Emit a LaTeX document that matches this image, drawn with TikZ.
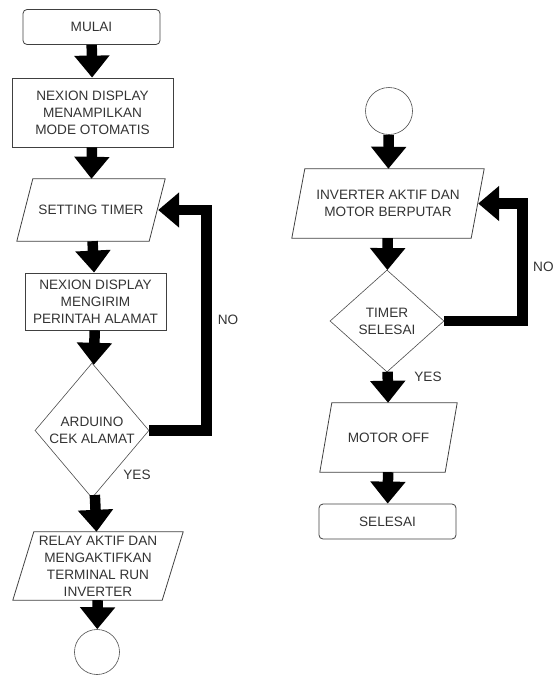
\documentclass[tikz,border=0pt]{standalone}
\usepackage{fontspec}
\setmainfont{Liberation Sans}
\usepackage{tikz}
\usetikzlibrary{arrows.meta, positioning, calc, shapes.geometric}

% parallelogram outline around a (not drawn) node: name, slant
\newcommand{\jajar}[2]{%
  \draw[black!75, thick] ($(#1.north west)+(#2,0)$) -- (#1.north east)
    -- ($(#1.south east)-(#2,0)$) -- (#1.south west) -- cycle;}

\begin{document}
\begin{tikzpicture}[
        x=1pt, y=-1pt,
        font=\fontsize{13.6}{17}\selectfont,
        every node/.style={text=black!80, align=center},
        terminal/.style={draw=black!75, thick, rounded corners=4pt, minimum width=137pt, minimum height=35pt, inner sep=0pt},
        process/.style={draw=black!75, thick, rectangle, inner sep=0pt},
        io/.style={rectangle, inner sep=0pt},
        decision/.style={draw=black!70, semithick, diamond, inner sep=0pt},
        connector/.style={draw=black!70, semithick, circle, inner sep=0pt},
        flow/.style={line width=10.5pt, black, -{Triangle[width=34pt, length=22pt]}},
        loop/.style={line width=10.5pt, black, miter limit=4, -{Triangle[width=34pt, length=21pt]}}
        ]
        \useasboundingbox (0,0) rectangle (553,675);

        % Left column
        \node[terminal] (mulai) at (91.5,27) {MULAI};
        \node[process, minimum width=161pt, minimum height=69pt] (tampil) at (92.5,112.5) {NEXION DISPLAY\\MENAMPILKAN\\MODE OTOMATIS};
        \node[io, minimum width=148pt, minimum height=62pt] (setting) at (91,210) {SETTING TIMER};
        \node[process, minimum width=141pt, minimum height=57pt] (kirim) at (95.5,301.5) {NEXION DISPLAY\\MENGIRIM\\PERINTAH ALAMAT};
        \node[decision, minimum width=114pt, minimum height=135pt] (cek) at (92,430.5) {ARDUINO\\CEK ALAMAT};
        \node[io, minimum width=170pt, minimum height=68pt] (relay) at (98,566) {RELAY AKTIF DAN\\MENGAKTIFKAN\\TERMINAL RUN\\INVERTER};
        \node[connector, minimum size=45pt] (sambung1) at (97,652) {};
        \jajar{setting}{16}
        \jajar{relay}{21}

        % Right column
        \node[connector, minimum size=47pt] (sambung2) at (389,111) {};
        \node[io, minimum width=192pt, minimum height=69pt] (putar) at (388,203.5) {INVERTER AKTIF DAN\\MOTOR BERPUTAR};
        \node[decision, minimum width=114pt, minimum height=102pt] (timer) at (387,321) {TIMER\\SELESAI};
        \node[io, minimum width=137pt, minimum height=69pt] (off) at (388.5,437.5) {MOTOR OFF};
        \node[terminal] (selesai) at (387.5,521.5) {SELESAI};
        \jajar{putar}{13}
        \jajar{off}{12}

        % Arrows
        \draw[flow] (mulai) -- (tampil);
        \draw[flow] (tampil) -- (setting);
        \draw[flow] (setting) -- (kirim);
        \draw[flow] (kirim) -- (cek);
        \draw[flow] (cek) -- (relay);
        \draw[flow] (relay) -- (sambung1);
        \draw[loop] (cek.east) -- ++(57,0) coordinate (balik1) |- ($(setting.east)-(7,0)$);

        \draw[flow] (sambung2) -- (putar);
        \draw[flow] (putar) -- (timer);
        \draw[flow] (timer) -- (off);
        \draw[flow] (off) -- (selesai);
        \draw[loop] (timer.east) -- ++(78,0) coordinate (balik2) |- ($(putar.east)-(6,0)$);

        % Labels
        \node (no1) at (228,320) {NO};
        \node (yes1) at (137,475) {YES};
        \node[anchor=west, inner sep=0pt] (no2) at (533,267) {NO};
        \node (yes2) at (428,377) {YES};
    \end{tikzpicture}
\end{document}
